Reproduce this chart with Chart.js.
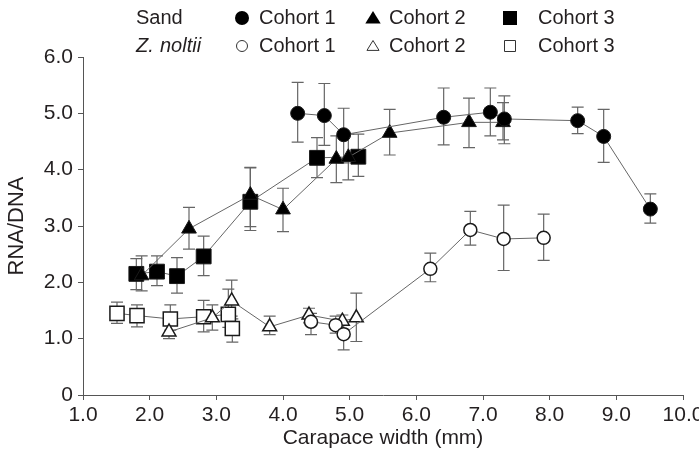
<!DOCTYPE html>
<html>
<head>
<meta charset="utf-8">
<script src="https://cdn.jsdelivr.net/npm/chart.js@4/dist/chart.umd.min.js"></script>
<style>
  body { margin: 0; background: #fff; }
  canvas { display: block; }
</style>
</head>
<body>
<canvas id="myGraph" width="699" height="463"></canvas>
<script>
// Sand, cohort 1 (filled circles)
const sand1X  = [4.22, 4.62, 4.91, 6.41, 7.11, 7.32, 8.42, 8.81, 9.51];
const sand1Y  = [5.00, 4.96, 4.62, 4.93, 5.02, 4.90, 4.87, 4.59, 3.30];
const sand1Hi = [5.55, 5.53, 5.09, 5.45, 5.45, 5.31, 5.11, 5.07, 3.57];
const sand1Lo = [4.49, 4.43, 4.12, 4.44, 4.60, 4.46, 4.64, 4.13, 3.05];

// Sand, cohort 2 (filled triangles)
const sand2X  = [1.88, 2.59, 3.51, 4.00, 4.80, 4.98, 5.60, 6.79, 7.30];
const sand2Y  = [2.12, 2.95, 3.55, 3.29, 4.19, 4.22, 4.65, 4.84, 4.84];
const sand2Hi = [2.47, 3.33, 4.04, 3.67, 4.60, 4.63, 5.07, 5.27, 5.19];
const sand2Lo = [1.85, 2.59, 2.92, 2.90, 3.77, 3.82, 4.26, 4.39, 4.53];

// Sand, cohort 3 (filled squares)
const sand3X  = [1.80, 2.11, 2.41, 2.81, 3.51, 4.51, 5.13];
const sand3Y  = [2.15, 2.19, 2.11, 2.46, 3.43, 4.21, 4.23];
const sand3Hi = [2.42, 2.47, 2.44, 2.82, 4.03, 4.57, 4.63];
const sand3Lo = [1.87, 1.94, 1.81, 2.12, 2.99, 3.86, 3.88];

// Z. noltii, cohort 1 (open circles)
const zos1X  = [4.42, 4.79, 4.91, 6.21, 6.81, 7.31, 7.91];
const zos1Y  = [1.30, 1.24, 1.08, 2.24, 2.93, 2.77, 2.79];
const zos1Hi = [1.45, 1.40, 1.30, 2.52, 3.26, 3.37, 3.21];
const zos1Lo = [1.07, 1.10, 0.80, 2.01, 2.66, 2.21, 2.39];

// Z. noltii, cohort 2 (open triangles)
const zos2X  = [2.29, 2.94, 3.23, 3.80, 4.39, 4.89, 5.10];
const zos2Y  = [1.12, 1.37, 1.67, 1.21, 1.42, 1.31, 1.37];
const zos2Hi = [1.25, 1.60, 2.04, 1.40, 1.54, 1.42, 1.81];
const zos2Lo = [1.00, 1.15, 1.40, 1.07, 1.28, 1.18, 0.95];

// Z. noltii, cohort 3 (open squares)
const zos3X  = [1.51, 1.81, 2.31, 2.81, 3.18, 3.24];
const zos3Y  = [1.45, 1.41, 1.35, 1.39, 1.43, 1.18];
const zos3Hi = [1.65, 1.60, 1.60, 1.68, 1.88, 1.35];
const zos3Lo = [1.27, 1.21, 1.15, 1.12, 1.20, 0.94];

const xTicks = [1, 2, 3, 4, 5, 6, 7, 8, 9, 10];
const yTicks = [0, 1, 2, 3, 4, 5, 6];

const FONT = '"Liberation Sans", Arial, sans-serif';
const LINE = '#666';
const EDGE = '#1a1a1a';

function pts(xs, ys) {
  return xs.map((x, i) => ({ x: x, y: ys[i] }));
}

function series(label, xs, ys, lo, hi, style, filled, radius) {
  return {
    label: label,
    data: pts(xs, ys),
    errLo: lo,
    errHi: hi,
    showLine: true,
    borderColor: LINE,
    borderWidth: 1,
    pointStyle: style,
    pointRadius: radius,
    pointBackgroundColor: filled ? '#000' : '#fff',
    pointBorderColor: EDGE,
    pointBorderWidth: filled ? 1 : 1.5
  };
}

// error bars drawn under the markers
const errorBars = {
  id: 'errorBars',
  beforeDatasetsDraw(chart) {
    const ctx = chart.ctx;
    const y = chart.scales.y;
    ctx.save();
    ctx.strokeStyle = LINE;
    ctx.lineWidth = 1.2;
    chart.data.datasets.forEach((ds, i) => {
      const meta = chart.getDatasetMeta(i);
      meta.data.forEach((p, j) => {
        const top = y.getPixelForValue(ds.errHi[j]);
        const bot = y.getPixelForValue(ds.errLo[j]);
        ctx.beginPath();
        ctx.moveTo(p.x, top); ctx.lineTo(p.x, bot);
        ctx.moveTo(p.x - 6, top); ctx.lineTo(p.x + 6, top);
        ctx.moveTo(p.x - 6, bot); ctx.lineTo(p.x + 6, bot);
        ctx.stroke();
      });
    });
    ctx.restore();
  }
};

function marker(ctx, style, filled, x, y, r) {
  ctx.beginPath();
  if (style === 'circle') {
    ctx.arc(x, y, r, 0, Math.PI * 2);
  } else if (style === 'rect') {
    ctx.rect(x - r, y - r, 2 * r, 2 * r);
  } else {
    ctx.moveTo(x, y - r);
    ctx.lineTo(x + r * 1.1, y + r * 0.8);
    ctx.lineTo(x - r * 1.1, y + r * 0.8);
    ctx.closePath();
  }
  if (filled) {
    ctx.fillStyle = '#000';
    ctx.fill();
  } else {
    ctx.fillStyle = '#fff';
    ctx.fill();
    ctx.strokeStyle = '#333';
    ctx.lineWidth = 1;
    ctx.stroke();
  }
}

const legendBlock = {
  id: 'legendBlock',
  afterDraw(chart) {
    const ctx = chart.ctx;
    ctx.save();
    ctx.textBaseline = 'middle';
    ctx.fillStyle = '#231f20';
    ctx.font = '20px ' + FONT;
    ctx.fillText('Sand', 136, 18);
    ctx.font = 'italic 20px ' + FONT;
    ctx.fillText('Z.', 136, 46);
    ctx.fillText('noltii', 160, 46);
    ctx.font = '20px ' + FONT;
    const cols = [
      { mx: 242, tx: 259, style: 'circle' },
      { mx: 373, tx: 389, style: 'triangle' },
      { mx: 510, tx: 538, style: 'rect' }
    ];
    cols.forEach((c, k) => {
      ctx.fillStyle = '#231f20';
      ctx.fillText('Cohort ' + (k + 1), c.tx, 18);
      ctx.fillText('Cohort ' + (k + 1), c.tx, 46);
      marker(ctx, c.style, true, c.mx, 18, 7);
      marker(ctx, c.style, false, c.mx, 46, 5.5);
    });
    ctx.restore();
  }
};

const graph = document.getElementById('myGraph');

new Chart(graph, {
  type: 'scatter',
  data: {
    datasets: [
      series('Sand Cohort 1', sand1X, sand1Y, sand1Lo, sand1Hi, 'circle', true, 7),
      series('Sand Cohort 2', sand2X, sand2Y, sand2Lo, sand2Hi, 'triangle', true, 8.5),
      series('Sand Cohort 3', sand3X, sand3Y, sand3Lo, sand3Hi, 'rect', true, 10.5),
      series('Z. noltii Cohort 1', zos1X, zos1Y, zos1Lo, zos1Hi, 'circle', false, 6.5),
      series('Z. noltii Cohort 2', zos2X, zos2Y, zos2Lo, zos2Hi, 'triangle', false, 8),
      series('Z. noltii Cohort 3', zos3X, zos3Y, zos3Lo, zos3Hi, 'rect', false, 10)
    ]
  },
  options: {
    responsive: false,
    animation: false,
    events: [],
    layout: { padding: { top: 57, right: 16, left: 0, bottom: 0 } },
    plugins: {
      legend: { display: false },
      tooltip: { enabled: false }
    },
    scales: {
      x: {
        type: 'linear',
        min: 1,
        max: 10,
        afterBuildTicks(s) { s.ticks = xTicks.map(v => ({ value: v })); },
        afterFit(s) { s.height = 68; s.paddingLeft = 0; s.paddingRight = 0; },
        grid: { drawOnChartArea: false, drawTicks: true, tickLength: 5, color: '#555' },
        border: { display: true, color: '#555', width: 1 },
        ticks: {
          padding: 3,
          color: '#231f20',
          font: { family: FONT, size: 21 },
          callback: v => v.toFixed(1)
        },
        title: {
          display: true,
          text: 'Carapace width (mm)',
          color: '#231f20',
          font: { family: FONT, size: 21 },
          padding: { top: 2, bottom: 12 }
        }
      },
      y: {
        type: 'linear',
        min: 0,
        max: 6,
        afterBuildTicks(s) { s.ticks = yTicks.map(v => ({ value: v })); },
        afterFit(s) { s.width = 83; s.paddingTop = 0; s.paddingBottom = 0; },
        grid: { drawOnChartArea: false, drawTicks: true, tickLength: 5, color: '#555' },
        border: { display: true, color: '#555', width: 1 },
        ticks: {
          padding: 5,
          color: '#231f20',
          font: { family: FONT, size: 21 },
          callback: v => (v === 0 ? '0' : v.toFixed(1))
        },
        title: {
          display: true,
          text: 'RNA/DNA',
          color: '#231f20',
          font: { family: FONT, size: 22 },
          padding: { top: 4, bottom: 2 }
        }
      }
    }
  },
  plugins: [errorBars, legendBlock]
});
</script>
</body>
</html>
